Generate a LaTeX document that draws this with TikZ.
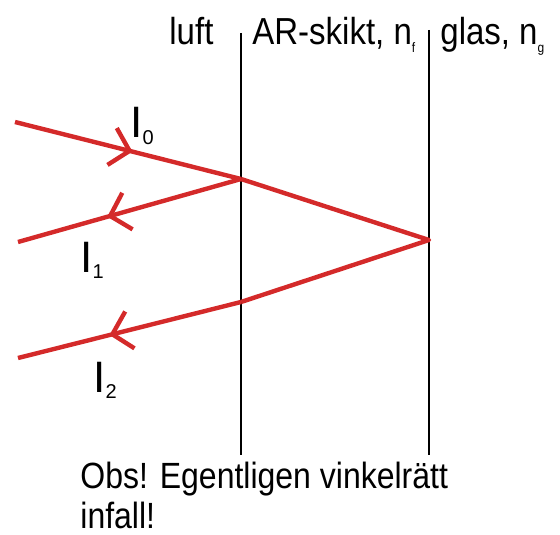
\documentclass[tikz,border=0pt]{standalone}
\usepackage{fontspec}
\setmainfont{Liberation Sans}
\usetikzlibrary{arrows.meta,decorations.markings}
\definecolor{stralrod}{RGB}{212,42,42}
\newcommand{\intens}[1]{{\fontsize{22}{22}\selectfont I}\raisebox{-3pt}{\fontsize{10}{10}\selectfont #1}}
\newcommand{\brind}[1]{n\raisebox{-3.5pt}{\fontsize{6}{6}\selectfont #1}}
\newcommand{\hog}[1]{\scalebox{1}[1.14]{#1}}
\tikzset{
  ray/.style={stralrod,line width=2.2pt},
  wall/.style={black,line width=1.1pt},
  lbl/.style={inner sep=0pt,anchor=base west,font=\fontsize{16.5}{20}\selectfont},
  pil/.style={postaction={decorate},decoration={markings,
    mark=at position #1 with {\arrow{Straight Barb[length=9pt,width=19pt,line width=2.2pt]}}}}
}
\begin{document}
\begin{tikzpicture}[x=0.5pt,y=-0.5pt]
  \useasboundingbox (0,0) rectangle (560,534);
  % the two surfaces
  \coordinate (luftTop) at (241,33); \coordinate (luftBot) at (241,455);
  \coordinate (glasTop) at (429,30); \coordinate (glasBot) at (429,455);
  \draw[wall] (luftTop)--(luftBot); \draw[wall] (glasTop)--(glasBot);
  % ray points
  \coordinate (in) at (15,122); \coordinate (P) at (241,179);
  \coordinate (Q) at (429,240); \coordinate (R) at (241,302);
  \coordinate (ut1) at (18,242); \coordinate (ut2) at (18,358);
  \draw[ray,pil=0.52] (in)--(P);
  \draw[ray,pil=0.6] (P)--(ut1);
  \draw[ray,line join=round] (P)--(Q)--(R);
  \draw[ray,pil=0.59] (R)--(ut2);
  % labels
  \node[lbl] (luft) at (169,45) {\hog{luft}};
  \node[lbl] (skikt) at (252,45) {\hog{AR-skikt, \brind{f}}};
  \node[lbl] (glas) at (440,45) {\hog{glas, \brind{g}}};
  \node[lbl] (I0) at (130,138) {\intens{0}};
  \node[lbl] (I1) at (80,272) {\intens{1}};
  \node[lbl] (I2) at (93,392) {\intens{2}};
  \node[lbl,font=\fontsize{16}{20}\selectfont,align=left] (obs) at (80,528) {\hog{Obs! Egentligen vinkelrätt}\\\hog{infall!}};
\end{tikzpicture}
\end{document}
